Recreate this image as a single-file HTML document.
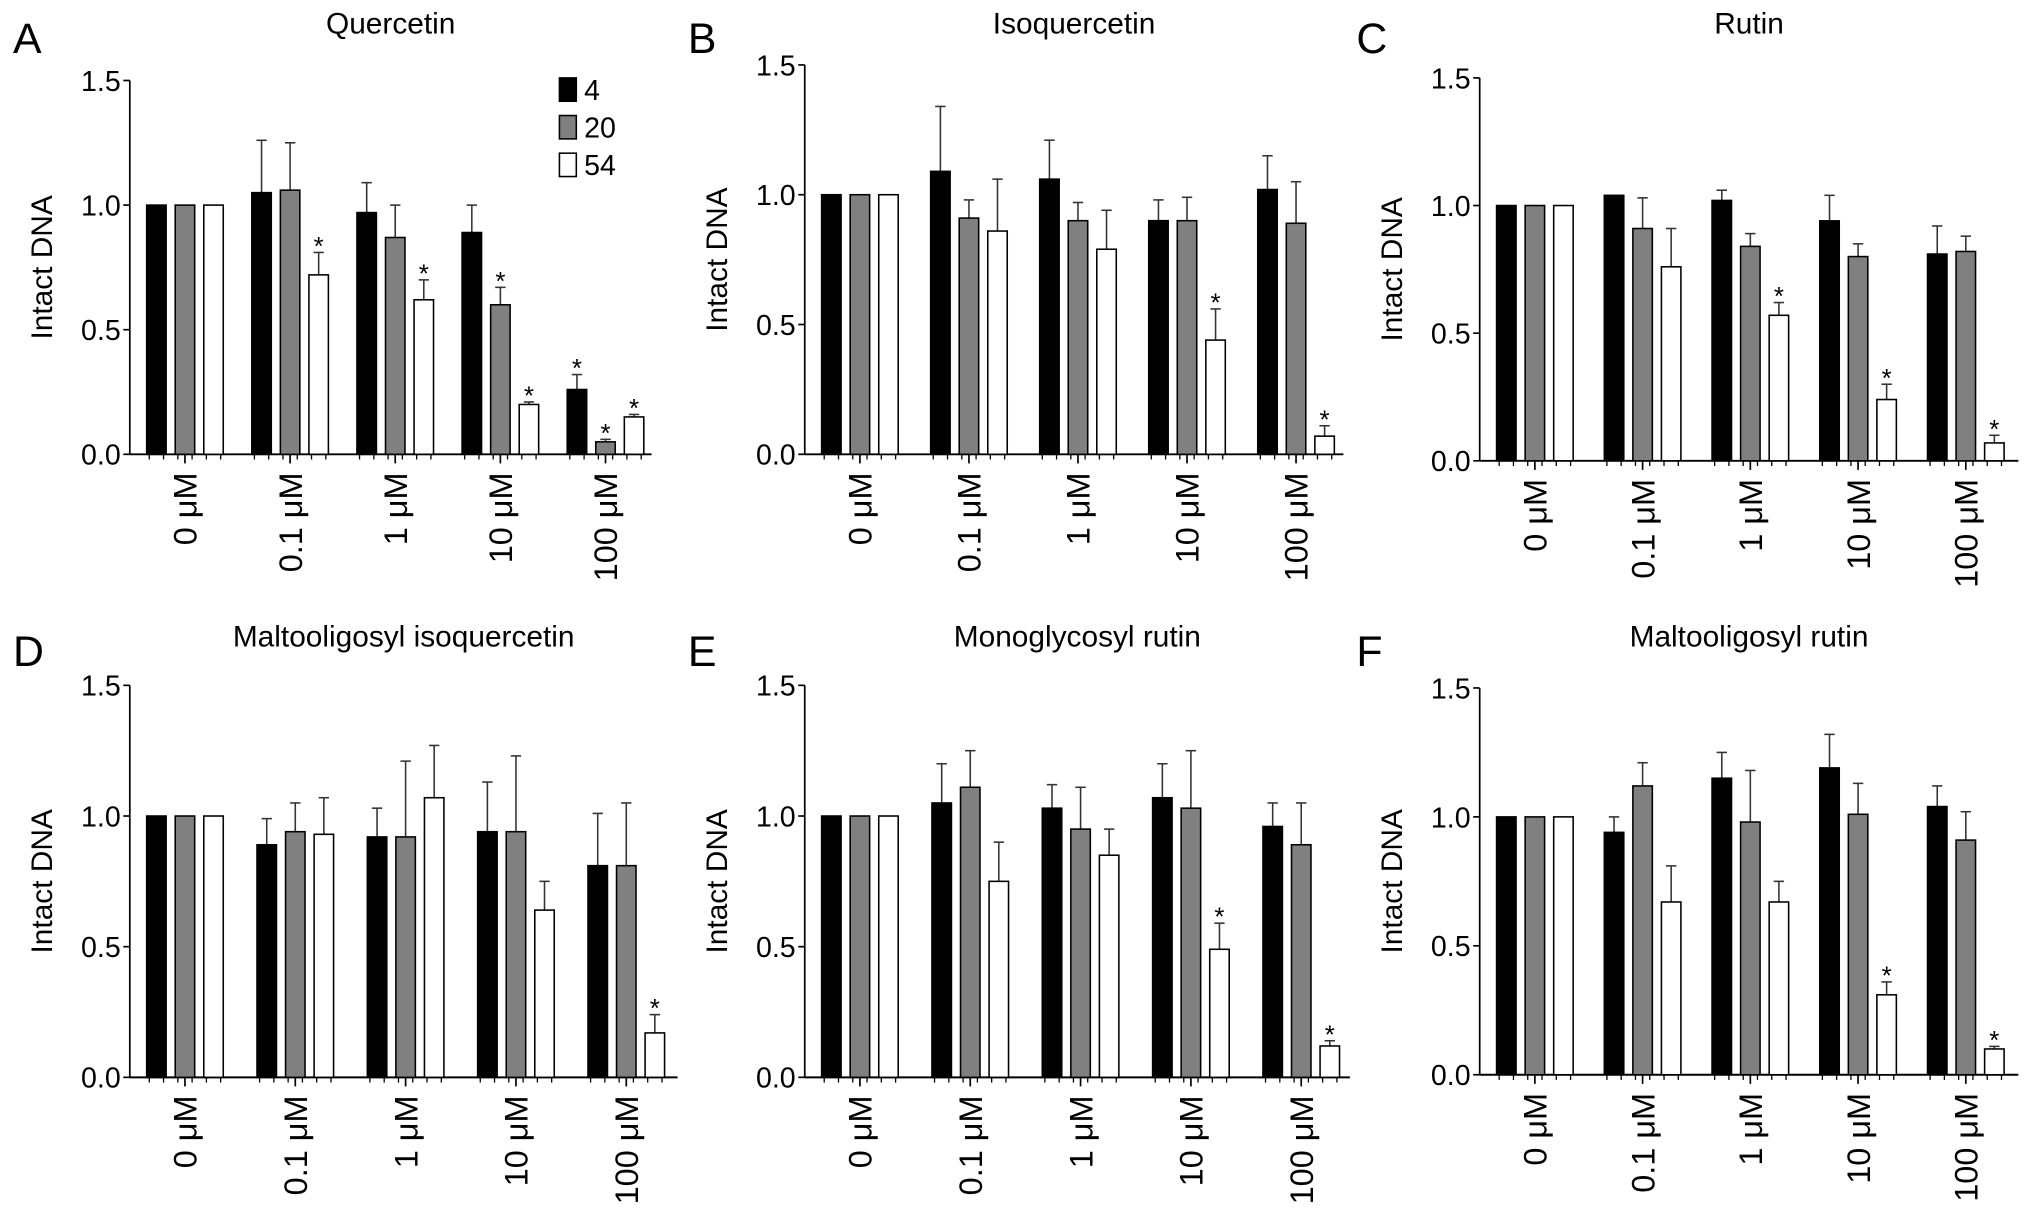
<!DOCTYPE html>
<html><head><meta charset="utf-8"><style>
html,body{margin:0;padding:0;background:#fff;}
svg{display:block;font-family:"Liberation Sans",Arial,sans-serif;}
</style></head><body>
<svg id="fig" width="2032" height="1213" viewBox="0 0 1565.5 934.5" xmlns="http://www.w3.org/2000/svg"></svg>
<script>
const categories = ["0 μM","0.1 μM","1 μM","10 μM","100 μM"];
const seriesNames = ["4","20","54"];
const yTicks = [0.0,0.5,1.0,1.5];
const titles = ["Quercetin","Isoquercetin","Rutin","Maltooligosyl isoquercetin","Monoglycosyl rutin","Maltooligosyl rutin"];
const letters = ["A","B","C","D","E","F"];
const valA = [[1,1,1],[1.05,1.06,0.72],[0.97,0.87,0.62],[0.89,0.60,0.20],[0.26,0.05,0.15]];
const errA = [[0,0,0],[0.21,0.19,0.09],[0.12,0.13,0.08],[0.11,0.07,0.01],[0.06,0.01,0.01]];
const starA = [[0,0,0],[0,0,1],[0,0,1],[0,1,1],[1,1,1]];
const valB = [[1,1,1],[1.09,0.91,0.86],[1.06,0.90,0.79],[0.90,0.90,0.44],[1.02,0.89,0.07]];
const errB = [[0,0,0],[0.25,0.07,0.20],[0.15,0.07,0.15],[0.08,0.09,0.12],[0.13,0.16,0.04]];
const starB = [[0,0,0],[0,0,0],[0,0,0],[0,0,1],[0,0,1]];
const valC = [[1,1,1],[1.04,0.91,0.76],[1.02,0.84,0.57],[0.94,0.80,0.24],[0.81,0.82,0.07]];
const errC = [[0,0,0],[0,0.12,0.15],[0.04,0.05,0.05],[0.10,0.05,0.06],[0.11,0.06,0.03]];
const starC = [[0,0,0],[0,0,0],[0,0,1],[0,0,1],[0,0,1]];
const valD = [[1,1,1],[0.89,0.94,0.93],[0.92,0.92,1.07],[0.94,0.94,0.64],[0.81,0.81,0.17]];
const errD = [[0,0,0],[0.10,0.11,0.14],[0.11,0.29,0.20],[0.19,0.29,0.11],[0.20,0.24,0.07]];
const starD = [[0,0,0],[0,0,0],[0,0,0],[0,0,0],[0,0,1]];
const valE = [[1,1,1],[1.05,1.11,0.75],[1.03,0.95,0.85],[1.07,1.03,0.49],[0.96,0.89,0.12]];
const errE = [[0,0,0],[0.15,0.14,0.15],[0.09,0.16,0.10],[0.13,0.22,0.10],[0.09,0.16,0.02]];
const starE = [[0,0,0],[0,0,0],[0,0,0],[0,0,1],[0,0,1]];
const valF = [[1,1,1],[0.94,1.12,0.67],[1.15,0.98,0.67],[1.19,1.01,0.31],[1.04,0.91,0.10]];
const errF = [[0,0,0],[0.06,0.09,0.14],[0.10,0.20,0.08],[0.13,0.12,0.05],[0.08,0.11,0.01]];
const starF = [[0,0,0],[0,0,0],[0,0,0],[0,0,1],[0,0,1]];

const values=[valA,valB,valC,valD,valE,valF];
const errors=[errA,errB,errC,errD,errE,errF];
const stars=[starA,starB,starC,starD,starE,starF];
const layout=[
 {ax:100,top:62,bot:350,end:502,g0:113,gp:81,lx:10,ty:18},
 {ax:620,top:50,bot:350,end:1035,g0:633,gp:84,lx:530,ty:18},
 {ax:1140,top:60,bot:355,end:1555,g0:1153,gp:83,lx:1045,ty:18},
 {ax:100,top:528,bot:830,end:522,g0:113,gp:85,lx:10,ty:490},
 {ax:620,top:528,bot:830,end:1040,g0:633,gp:85,lx:530,ty:490},
 {ax:1140,top:530,bot:828,end:1555,g0:1153,gp:83,lx:1045,ty:490}
];
const fills=["#000","#808080","#fff"];
const NS="http://www.w3.org/2000/svg";
const svg=document.getElementById("fig");
function mk(tag,attrs,parent,txt){const e=document.createElementNS(NS,tag);for(const k in attrs)e.setAttribute(k,attrs[k]);if(txt!==undefined)e.textContent=txt;(parent||svg).appendChild(e);return e;}
const BW=15, BP=22;
layout.forEach((L,p)=>{
  const g=mk("g",{});
  
  
  const y=v=>L.bot-(v/1.5)*(L.bot-L.top);
  const xg=i=>L.g0+L.gp*i;
  const lt=mk("text",{x:L.lx,y:L.ty+23,"font-size":33},g,letters[p]);
  
  
  const tt=mk("text",{x:(L.ax+L.end)/2,y:L.ty+8,"font-size":23,"text-anchor":"middle"},g,titles[p]);
  
  
  const yt=mk("text",{x:0,y:0,"font-size":23,"text-anchor":"middle",transform:`translate(${L.ax-60},${(L.top+L.bot)/2}) rotate(-90)`},g,"Intact DNA");
  
  
  const ya=mk("line",{x1:L.ax,y1:L.top,x2:L.ax,y2:L.bot,stroke:"#000","stroke-width":1.3},g);
  
  
  yTicks.forEach(t=>{
    mk("line",{x1:L.ax-5,y1:y(t),x2:L.ax,y2:y(t),stroke:"#000","stroke-width":1.3},g);
    const tl=mk("text",{x:L.ax-7,y:y(t)+8,"font-size":22,"text-anchor":"end"},g,t.toFixed(1));
    
    
  });
  const xa=mk("line",{x1:L.ax,y1:L.bot,x2:L.end,y2:L.bot,stroke:"#000","stroke-width":1.5},g);
  
  
  categories.forEach((c,i)=>{
    for(let s=0;s<3;s++){
      const v=values[p][i][s],e=errors[p][i][s];
      const bx=xg(i)+BP*s;
      if(e>0){
        mk("line",{x1:bx+BW/2,y1:y(v),x2:bx+BW/2,y2:y(v+e),stroke:"#333","stroke-width":1.2},g);
        mk("line",{x1:bx+BW/2-4,y1:y(v+e),x2:bx+BW/2+4,y2:y(v+e),stroke:"#333","stroke-width":1.2},g);
      }
      const r=mk("rect",{x:bx,y:y(v),width:BW,height:y(0)-y(v),fill:fills[s],stroke:"#000","stroke-width":1.2},g);
      
      
      if(stars[p][i][s]){
        const st=mk("text",{x:bx+BW/2,y:y(v+e)+2,"font-size":20,"text-anchor":"middle"},g,"*");
        
        
      }
      [bx+2,bx+BW-2].forEach(tx=>mk("line",{x1:tx,y1:L.bot,x2:tx,y2:L.bot+4,stroke:"#000","stroke-width":1},g));
    }
    const cx=xg(i)+BP+BW/2;
    mk("line",{x1:cx,y1:L.bot,x2:cx,y2:L.bot+7,stroke:"#000","stroke-width":1.3},g);
    const xl=mk("text",{x:0,y:0,"font-size":25,"text-anchor":"end",transform:`translate(${cx+9},${L.bot+14}) rotate(-90)`},g,c);
    
    
  });
  if(p===0){
    const lg=mk("g",{},g);
    
    
    seriesNames.forEach((n,s)=>{
      const yy=60+s*29;
      const sw=mk("rect",{x:431,y:yy,width:13,height:18,fill:fills[s],stroke:"#000","stroke-width":1.2},lg);
      
      
      const lt2=mk("text",{x:450,y:yy+17,"font-size":22},lg,n);
      
      
    });
  }
});
</script>
</body></html>
